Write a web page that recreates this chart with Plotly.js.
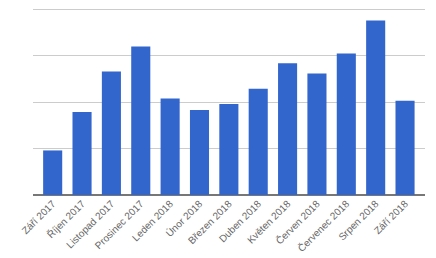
<!DOCTYPE html>
<html><head><meta charset="utf-8">
<script src="https://cdn.plot.ly/plotly-3.0.1.min.js"></script>
<style>html,body{margin:0;padding:0;background:#fff}#chart{width:436px;height:258px}</style>
</head><body><div id="chart"></div>
<script>
const months = ["Září 2017","Říjen 2017","Listopad 2017","Prosinec 2017","Leden 2018","Únor 2018","Březen 2018","Duben 2018","Květen 2018","Červen 2018","Červenec 2018","Srpen 2018","Září 2018"];
const values = [0.96,1.79,2.66,3.20,2.08,1.83,1.96,2.29,2.84,2.62,3.05,3.76,2.03];
const yTicks = [0,1,2,3,4];

Plotly.newPlot('chart',[{
  type:'bar', x:months, y:values,
  marker:{color:'#3366cc'}, hoverinfo:'none'
}],{
  width:436, height:258,
  margin:{l:33,r:11,t:7,b:63},
  paper_bgcolor:'#fff', plot_bgcolor:'#fff',
  bargap:0.35,
  showlegend:false,
  font:{family:'Liberation Sans, Arial, sans-serif', size:10, color:'#666'},
  xaxis:{type:'category', range:[-0.67,12.68], tickangle:-45, showgrid:false, ticks:'', showline:false, tickfont:{size:10,color:'#666'}},
  yaxis:{range:[0,4.05], tickvals:yTicks, showticklabels:false, gridcolor:'#cccccc', gridwidth:1, zeroline:true, zerolinecolor:'#777', zerolinewidth:1.5, ticks:''}
},{staticPlot:true});
</script></body></html>
